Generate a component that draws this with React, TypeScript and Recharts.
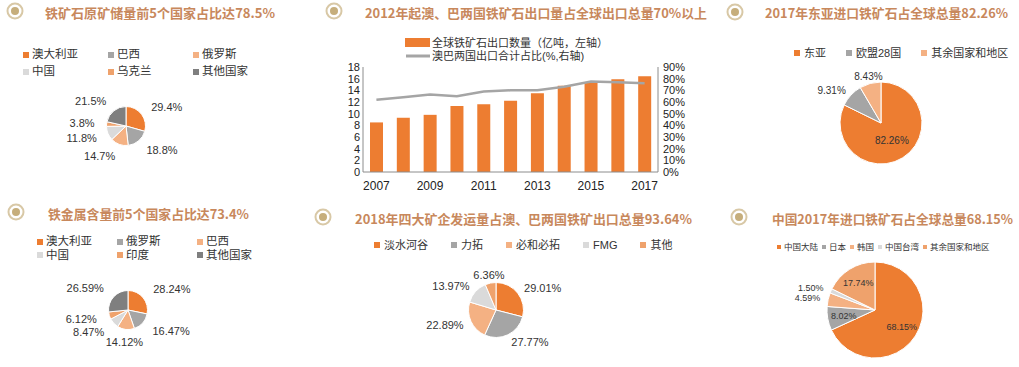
import React from 'react';
import { PieChart, Pie, Cell, ComposedChart, Bar, Line, XAxis, YAxis } from 'recharts';

const ORANGE = '#ED7D31';
const GRAY = '#A5A5A5';
const LIGHT_ORANGE = '#F4B183';
const LIGHT_GRAY = '#DADADA';
const TAN = '#EFA26C';
const DARK_GRAY = '#7F7F7F';

// Panel 1: 铁矿石原矿储量
const reserveCountries = ['澳大利亚', '巴西', '俄罗斯', '中国', '乌克兰', '其他国家'];
const reserveShares = [29.4, 18.8, 14.7, 11.8, 3.8, 21.5];
const reserveColors = [ORANGE, GRAY, LIGHT_ORANGE, LIGHT_GRAY, TAN, DARK_GRAY];

// Panel 2: 全球铁矿石出口
const exportYears = ['2007', '2008', '2009', '2010', '2011', '2012', '2013', '2014', '2015', '2016', '2017'];
const exportVolume = [8.5, 9.3, 9.8, 11.3, 11.6, 12.2, 13.5, 14.8, 15.3, 15.9, 16.4];
const ausBraShare = [62, 64, 66.5, 65, 69, 70, 70, 73, 77.5, 77, 76];
const leftTicks = [0, 2, 4, 6, 8, 10, 12, 14, 16, 18];
const rightTicks = [0, 10, 20, 30, 40, 50, 60, 70, 80, 90];

// Panel 3: 2017年进口
const importRegions = ['东亚', '欧盟28国', '其余国家和地区'];
const importShares = [82.26, 9.31, 8.43];
const importColors = [ORANGE, GRAY, LIGHT_ORANGE];

// Panel 4: 铁金属含量
const ironCountries = ['澳大利亚', '俄罗斯', '巴西', '中国', '印度', '其他国家'];
const ironShares = [28.24, 16.47, 14.12, 8.47, 6.12, 26.59];
const ironColors = [ORANGE, GRAY, LIGHT_ORANGE, LIGHT_GRAY, TAN, DARK_GRAY];

// Panel 5: 四大矿企
const miners = ['淡水河谷', '力拓', '必和必拓', 'FMG', '其他'];
const minerShares = [29.01, 27.77, 22.89, 13.97, 6.36];
const minerColors = [ORANGE, GRAY, LIGHT_ORANGE, LIGHT_GRAY, TAN];

// Panel 6: 中国进口
const chinaRegions = ['中国大陆', '日本', '韩国', '中国台湾', '其余国家和地区'];
const chinaShares = [68.15, 8.02, 4.59, 1.5, 17.74];
const chinaColors = [ORANGE, GRAY, LIGHT_ORANGE, LIGHT_GRAY, TAN];

const FONT = "'Liberation Sans', Arial, 'Noto Sans CJK SC', sans-serif";
const TITLE_FONT = "'Noto Sans CJK SC', 'Liberation Sans', sans-serif";
const TITLE_COLOR = '#C8885C';
const TEXT = '#333';

const exportData = exportYears.map((y, i) => ({ year: y, volume: exportVolume[i], share: ausBraShare[i] }));

function Icon({ x, y }: { x: number; y: number }) {
  return (
    <g>
      <circle cx={x} cy={y} r={7.5} fill="#fff" stroke="#D8C8A6" strokeWidth={2} />
      <circle cx={x} cy={y} r={4} fill="#C6AE7C" />
    </g>
  );
}

function Title({ x, y, w, text }: { x: number; y: number; w: number; text: string }) {
  return (
    <text x={x} y={y} dominantBaseline="central" textLength={w} lengthAdjust="spacingAndGlyphs"
      fontFamily={TITLE_FONT} fontSize={13} fontWeight={700} fill={TITLE_COLOR}>{text}</text>
  );
}

function GridLegend({ names, colors, left, top, colWidth, rowHeight, columns, fontSize, marker }: any) {
  return (
    <div style={{ position: 'absolute', left, top, display: 'grid', gridTemplateColumns: `repeat(${columns}, ${colWidth}px)`, gridAutoRows: `${rowHeight}px`, fontFamily: FONT, fontSize, color: TEXT, lineHeight: 1 }}>
      {names.map((n: string, i: number) => (
        <div key={n} style={{ display: 'flex', alignItems: 'center', whiteSpace: 'nowrap' }}>
          <span style={{ width: marker, height: marker, background: colors[i], marginRight: 3, flex: 'none' }} />
          {n}
        </div>
      ))}
    </div>
  );
}

function FlexLegend({ names, colors, left, top, height, gap, fontSize, marker, mgap }: any) {
  return (
    <div style={{ position: 'absolute', left, top, height, display: 'flex', alignItems: 'center', gap, fontFamily: FONT, fontSize, color: TEXT, whiteSpace: 'nowrap', lineHeight: 1 }}>
      {names.map((n: string, i: number) => (
        <div key={n} style={{ display: 'flex', alignItems: 'center' }}>
          <span style={{ width: marker, height: marker, background: colors[i], marginRight: mgap, flex: 'none' }} />
          {n}
        </div>
      ))}
    </div>
  );
}

function makeLabel(values: number[], o: { decimals: number; fontSize: number; offset: number; insideMin?: number; insideRatio?: number }) {
  return (props: any) => {
    const { cx, cy, midAngle, outerRadius, index } = props;
    const v = values[index];
    const RAD = Math.PI / 180;
    const c = Math.cos(-midAngle * RAD);
    const s = Math.sin(-midAngle * RAD);
    const inside = o.insideMin != null && v >= o.insideMin;
    const r = inside ? outerRadius * (o.insideRatio || 0.6) : outerRadius + o.offset;
    const anchor = inside ? 'middle' : c > 0.3 ? 'start' : c < -0.3 ? 'end' : 'middle';
    return (
      <text key={index} x={cx + r * c} y={cy + r * s} textAnchor={anchor} dominantBaseline="central"
        fontFamily={FONT} fontSize={o.fontSize} fill={TEXT}>{v.toFixed(o.decimals) + '%'}</text>
    );
  };
}

function PieBlock({ names, values, colors, cx, cy, r, label }: any) {
  const W = 240;
  const H = 160;
  const data = names.map((n: string, i: number) => ({ name: n, value: values[i] }));
  return (
    <div style={{ position: 'absolute', left: cx - W / 2, top: cy - H / 2, width: W, height: H }}>
      <PieChart width={W} height={H} margin={{ top: 0, right: 0, bottom: 0, left: 0 }}>
        <Pie data={data} dataKey="value" nameKey="name" cx={W / 2} cy={H / 2} outerRadius={r} innerRadius={0}
          startAngle={90} endAngle={-270} isAnimationActive={false} stroke="#fff" strokeWidth={1}
          labelLine={false} label={makeLabel(values, label)}>
          {data.map((d: any, i: number) => <Cell key={d.name} fill={colors[i]} />)}
        </Pie>
      </PieChart>
    </div>
  );
}

export default function App() {
  return (
    <div style={{ position: 'absolute', left: 0, top: 0, width: 1019, height: 367, background: '#fff', overflow: 'hidden' }}>
      <svg width={1019} height={367} style={{ position: 'absolute', left: 0, top: 0 }}>
        <Icon x={15} y={11} />
        <Icon x={334} y={11} />
        <Icon x={735} y={12} />
        <Icon x={16} y={212} />
        <Icon x={323} y={217} />
        <Icon x={739} y={217} />
        <Title x={45} y={12} w={230} text="铁矿石原矿储量前5个国家占比达78.5%" />
        <Title x={365} y={12} w={342} text="2012年起澳、巴两国铁矿石出口量占全球出口总量70%以上" />
        <Title x={765} y={12} w={243} text="2017年东亚进口铁矿石占全球总量82.26%" />
        <Title x={48} y={213} w={201} text="铁金属含量前5个国家占比达73.4%" />
        <Title x={355} y={218} w={337} text="2018年四大矿企发运量占澳、巴两国铁矿出口总量93.64%" />
        <Title x={772} y={218} w={241} text="中国2017年进口铁矿石占全球总量68.15%" />
        {/* panel 2 legend */}
        <rect x={405} y={38} width={25} height={9} fill={ORANGE} />
        <line x1={406} x2={430} y1={56} y2={56} stroke={GRAY} strokeWidth={3} />
        <text x={432} y={42.5} dominantBaseline="central" fontFamily={FONT} fontSize={11} fill={TEXT}>全球铁矿石出口数量（亿吨，左轴）</text>
        <text x={432} y={56} dominantBaseline="central" fontFamily={FONT} fontSize={11} fill={TEXT}>澳巴两国出口合计占比(%,右轴)</text>
      </svg>

      <GridLegend names={reserveCountries} colors={reserveColors} left={23} top={46} colWidth={85} rowHeight={17} columns={3} fontSize={11.5} marker={6} />
      <GridLegend names={ironCountries} colors={ironColors} left={37} top={235} colWidth={80} rowHeight={13.5} columns={3} fontSize={11.5} marker={6} />
      <FlexLegend names={importRegions} colors={importColors} left={794} top={46} height={14} gap={20} fontSize={11} marker={6} mgap={4} />
      <FlexLegend names={miners} colors={minerColors} left={374} top={238} height={14} gap={23} fontSize={11} marker={6} mgap={4} />
      <FlexLegend names={chinaRegions} colors={chinaColors} left={777} top={241} height={12} gap={4} fontSize={8.5} marker={4} mgap={3} />

      <PieBlock names={reserveCountries} values={reserveShares} colors={reserveColors} cx={125.5} cy={125.5} r={19.5}
        label={{ decimals: 1, fontSize: 11, offset: 12 }} />
      <PieBlock names={importRegions} values={importShares} colors={importColors} cx={881} cy={122.5} r={41}
        label={{ decimals: 2, fontSize: 10, offset: 7, insideMin: 50, insideRatio: 0.5 }} />
      <PieBlock names={ironCountries} values={ironShares} colors={ironColors} cx={128.3} cy={309.7} r={19.5}
        label={{ decimals: 2, fontSize: 11, offset: 13 }} />
      <PieBlock names={miners} values={minerShares} colors={minerColors} cx={495.5} cy={310} r={27.5}
        label={{ decimals: 2, fontSize: 11, offset: 8 }} />
      <PieBlock names={chinaRegions} values={chinaShares} colors={chinaColors} cx={875} cy={310} r={48}
        label={{ decimals: 2, fontSize: 9, offset: 8, insideMin: 8, insideRatio: 0.66 }} />

      <div style={{ position: 'absolute', left: 320, top: 60, width: 380, height: 135 }}>
        <ComposedChart width={380} height={135} data={exportData} margin={{ top: 7, right: 0, bottom: 0, left: 0 }} barCategoryGap="50%">
          <XAxis dataKey="year" interval={1} axisLine={{ stroke: '#8C8C8C' }} tickLine={false} tickSize={0} tickMargin={9} height={23}
            tick={{ fontFamily: FONT, fontSize: 12, fill: '#222' }} />
          <YAxis yAxisId="left" domain={[0, 18]} ticks={leftTicks} interval={0} width={43} axisLine={{ stroke: '#8C8C8C' }} tickLine={false} tickSize={0} tickMargin={3}
            tick={{ fontFamily: FONT, fontSize: 11, fill: '#222' }} />
          <YAxis yAxisId="right" orientation="right" domain={[0, 90]} ticks={rightTicks} interval={0} width={42} axisLine={{ stroke: '#8C8C8C' }} tickLine={false} tickSize={0} tickMargin={5}
            tickFormatter={(v: number) => `${v}%`} tick={{ fontFamily: FONT, fontSize: 11, fill: '#222' }} />
          <Bar yAxisId="left" dataKey="volume" fill={ORANGE} barSize={13} isAnimationActive={false} />
          <Line yAxisId="right" dataKey="share" stroke={GRAY} strokeWidth={2.5} dot={false} isAnimationActive={false} />
        </ComposedChart>
      </div>
    </div>
  );
}
